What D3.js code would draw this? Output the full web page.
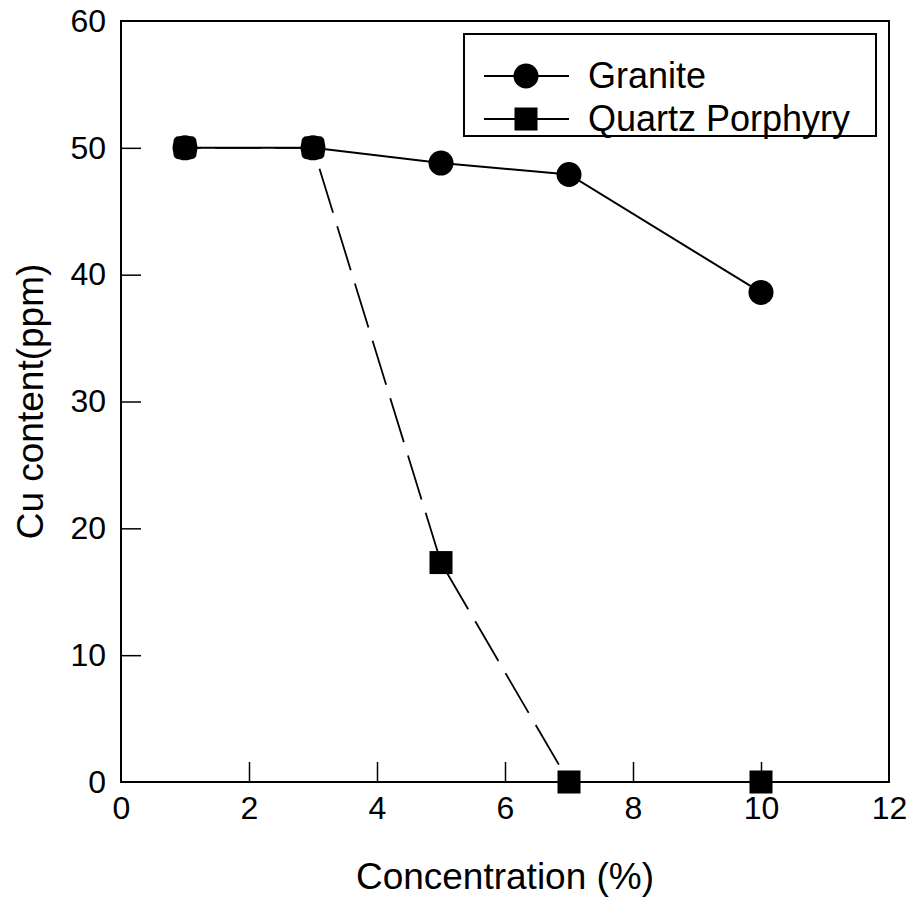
<!DOCTYPE html>
<html>
<head>
<meta charset="utf-8">
<script src="https://cdn.jsdelivr.net/npm/d3@7"></script>
<style>
  body { margin: 0; background: #fff; }
  svg { display: block; font-family: "Liberation Sans", Arial, sans-serif; }
</style>
</head>
<body>
<div id="chart"></div>
<script>
// data
const concentration = [1, 3, 5, 7, 10];
const granite = [50, 50, 48.8, 47.9, 38.6];
const quartzPorphyry = [50, 50, 17.3, 0, 0];
const xTicks = [0, 2, 4, 6, 8, 10, 12];
const yTicks = [0, 10, 20, 30, 40, 50, 60];

const width = 909, height = 898;
const margin = {top: 21, right: 20, bottom: 116, left: 121};

const svg = d3.select("#chart").append("svg")
    .attr("width", width)
    .attr("height", height);

const x = d3.scaleLinear().domain([0, 12]).range([margin.left, width - margin.right]);
const y = d3.scaleLinear().domain([0, 60]).range([height - margin.bottom, margin.top]);

// frame
svg.append("rect")
    .attr("x", x(0))
    .attr("y", y(60))
    .attr("width", x(12) - x(0))
    .attr("height", y(0) - y(60))
    .attr("fill", "none")
    .attr("stroke", "#000")
    .attr("stroke-width", 2);

// axes, ticks pointing inside
const xAxis = svg.append("g")
    .attr("transform", `translate(0,${y(0)})`)
    .call(d3.axisBottom(x).tickValues(xTicks).tickSizeInner(-20).tickSizeOuter(0).tickPadding(14));
const yAxis = svg.append("g")
    .attr("transform", `translate(${x(0)},0)`)
    .call(d3.axisLeft(y).tickValues(yTicks).tickSizeInner(-20).tickSizeOuter(0).tickPadding(15));

[xAxis, yAxis].forEach(g => {
    g.attr("font-size", null).attr("font-family", null);
    g.select(".domain").remove();
    g.selectAll(".tick line").attr("stroke", "#000").attr("stroke-width", 1.5);
    g.selectAll(".tick text").attr("fill", "#000").style("font-size", "32px");
});
// no tick marks on the frame corners
xAxis.selectAll(".tick").filter(d => d === 0 || d === 12).select("line").remove();
yAxis.selectAll(".tick").filter(d => d === 0 || d === 60).select("line").remove();
xAxis.selectAll(".tick text").attr("dy", "0.71em");

// axis titles
svg.append("text")
    .attr("x", 505)
    .attr("y", 889)
    .attr("text-anchor", "middle")
    .style("font-size", "37px")
    .text("Concentration (%)");

svg.append("text")
    .attr("transform", `translate(43,${(y(0) + y(60)) / 2}) rotate(-90)`)
    .attr("text-anchor", "middle")
    .style("font-size", "37px")
    .text("Cu content(ppm)");

const line = d3.line()
    .x((d, i) => x(concentration[i]))
    .y(d => y(d));

// quartz porphyry, dashed
svg.append("path")
    .datum(quartzPorphyry)
    .attr("d", line)
    .attr("fill", "none")
    .attr("stroke", "#000")
    .attr("stroke-width", 1.8)
    .attr("stroke-dasharray", "46,14")
    .attr("stroke-dashoffset", -30);

// granite, solid
svg.append("path")
    .datum(granite)
    .attr("d", line)
    .attr("fill", "none")
    .attr("stroke", "#000")
    .attr("stroke-width", 2);

svg.selectAll(".granite")
    .data(granite)
    .join("circle")
    .attr("class", "granite")
    .attr("cx", (d, i) => x(concentration[i]))
    .attr("cy", d => y(d))
    .attr("r", 12.5)
    .attr("fill", "#000");

const sq = 23;
svg.selectAll(".quartz")
    .data(quartzPorphyry)
    .join("rect")
    .attr("class", "quartz")
    .attr("x", (d, i) => x(concentration[i]) - sq / 2)
    .attr("y", d => y(d) - sq / 2)
    .attr("width", sq)
    .attr("height", sq)
    .attr("rx", (d, i) => i < 2 ? 5 : 0)
    .attr("fill", "#000");

// legend
const legend = svg.append("g");
legend.append("rect")
    .attr("x", 464)
    .attr("y", 34)
    .attr("width", 412)
    .attr("height", 102)
    .attr("fill", "#fff")
    .attr("stroke", "#000")
    .attr("stroke-width", 2);

const rows = [
    {name: "Granite", cy: 76, shape: "circle"},
    {name: "Quartz Porphyry", cy: 119, shape: "square"}
];
rows.forEach(r => {
    legend.append("line")
        .attr("x1", 484).attr("x2", 569)
        .attr("y1", r.cy).attr("y2", r.cy)
        .attr("stroke", "#000").attr("stroke-width", 2);
    if (r.shape === "circle") {
        legend.append("circle").attr("cx", 526).attr("cy", r.cy).attr("r", 12.5).attr("fill", "#000");
    } else {
        legend.append("rect").attr("x", 526 - sq / 2).attr("y", r.cy - sq / 2)
            .attr("width", sq).attr("height", sq).attr("fill", "#000");
    }
    legend.append("text")
        .attr("x", 588)
        .attr("y", r.cy + 12)
        .style("font-size", "36px")
        .text(r.name);
});
</script>
</body>
</html>
